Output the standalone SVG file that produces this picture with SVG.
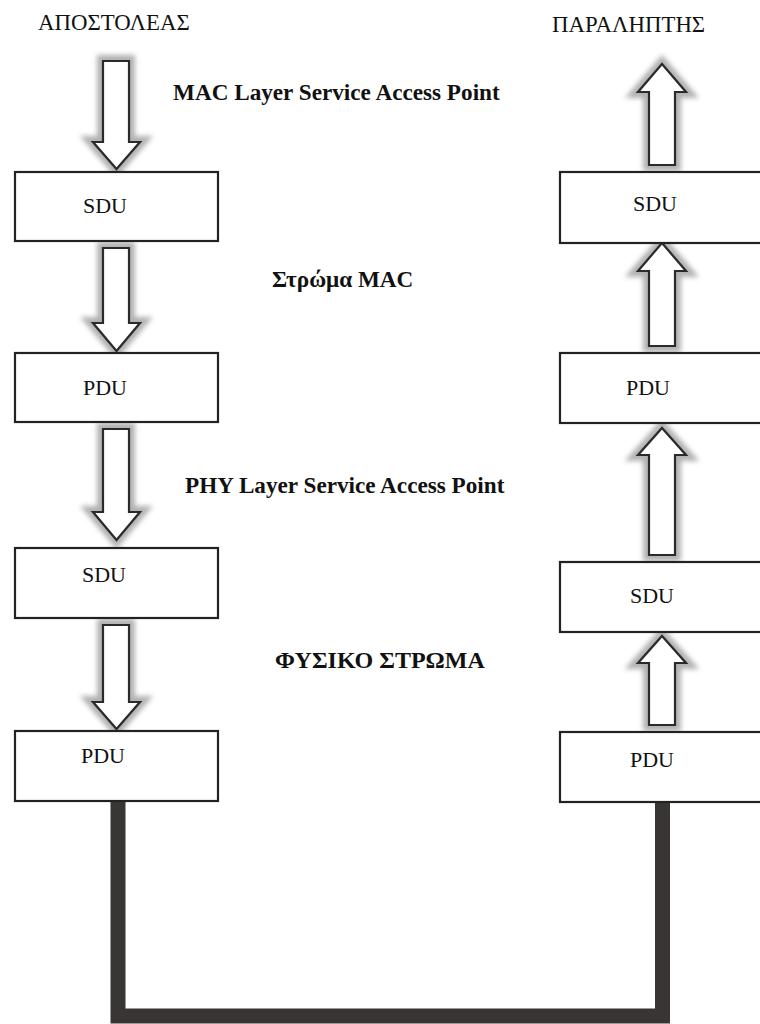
<svg xmlns="http://www.w3.org/2000/svg" width="760" height="1024" viewBox="0 0 760 1024">
<defs>
<filter id="halo" x="-60%" y="-30%" width="220%" height="160%">
<feGaussianBlur stdDeviation="2.5"/>
</filter>
</defs>
<style>
text{font-family:'Liberation Serif','Times New Roman',Times,'DejaVu Serif',serif;fill:#111}
.box{fill:#fff;stroke:#222;stroke-width:2.2}
.arr{fill:#fff;stroke:#2a2a2a;stroke-width:2.2;stroke-linejoin:miter}
.glow{fill:none;stroke:#9e9e9e;stroke-width:12;opacity:0.8;filter:url(#halo)}
.lbl{font-size:22px}
.hdr{font-size:22.8px}
.bold{font-size:23.2px;font-weight:bold}
.wire{fill:none;stroke:#3a3535;stroke-width:15;stroke-linejoin:miter}
</style>
<rect width="760" height="1024" fill="#fff"/>

<g font-family="Liberation Serif, serif">
<text class="hdr" x="38" y="30">ΑΠΟΣΤΟΛΕΑΣ</text>
<text class="hdr" x="552" y="32">ΠΑΡΑΛΗΠΤΗΣ</text>
<text class="bold" x="173" y="100">MAC Layer Service Access Point</text>
<text class="bold" x="272" y="287">Στρώμα MAC</text>
<text class="bold" x="185" y="493">PHY Layer Service Access Point</text>
<text class="bold" x="275" y="668" style="font-size:24px">ΦΥΣΙΚΟ ΣΤΡΩΜΑ</text>
</g>

<g id="connectors">
<g id="arrow-l1"><path class="glow" d="M103,61 H129 V142 H140 L116.5,169 L93,142 H103 Z"/><path class="arr" d="M103,61 H129 V142 H140 L116.5,169 L93,142 H103 Z"/></g>
<g id="arrow-l2"><path class="glow" d="M103,248 H129 V323 H140 L116.5,351 L93,323 H103 Z"/><path class="arr" d="M103,248 H129 V323 H140 L116.5,351 L93,323 H103 Z"/></g>
<g id="arrow-l3"><path class="glow" d="M103,429 H129 V512 H140 L116.5,540 L93,512 H103 Z"/><path class="arr" d="M103,429 H129 V512 H140 L116.5,540 L93,512 H103 Z"/></g>
<g id="arrow-l4"><path class="glow" d="M103,625 H129 V702 H140 L116.5,729 L93,702 H103 Z"/><path class="arr" d="M103,625 H129 V702 H140 L116.5,729 L93,702 H103 Z"/></g>
<g id="arrow-r1"><path class="glow" d="M649,165 H675 V92 H686 L662,64 L638,92 H649 Z"/><path class="arr" d="M649,165 H675 V92 H686 L662,64 L638,92 H649 Z"/></g>
<g id="arrow-r2"><path class="glow" d="M649,346 H675 V271 H686 L662,243 L638,271 H649 Z"/><path class="arr" d="M649,346 H675 V271 H686 L662,243 L638,271 H649 Z"/></g>
<g id="arrow-r3"><path class="glow" d="M649,555 H675 V455 H686 L662,428 L638,455 H649 Z"/><path class="arr" d="M649,555 H675 V455 H686 L662,428 L638,455 H649 Z"/></g>
<g id="arrow-r4"><path class="glow" d="M649,725 H675 V663 H686 L662,636 L638,663 H649 Z"/><path class="arr" d="M649,725 H675 V663 H686 L662,636 L638,663 H649 Z"/></g>
<path id="medium" class="wire" d="M118,802 V1016 H662.5 V803"/>
</g>

<g id="tx-sdu1"><rect class="box" x="15" y="172" width="203" height="69"/><text class="lbl" x="83" y="213">SDU</text></g>
<g id="tx-pdu1"><rect class="box" x="15" y="353" width="203" height="69"/><text class="lbl" x="83" y="395">PDU</text></g>
<g id="tx-sdu2"><rect class="box" x="15" y="548" width="203" height="70"/><text class="lbl" x="82" y="582">SDU</text></g>
<g id="tx-pdu2"><rect class="box" x="15" y="731" width="203" height="70"/><text class="lbl" x="81" y="763">PDU</text></g>

<g id="rx-sdu1"><rect class="box" x="560" y="172" width="210" height="71"/><text class="lbl" x="633" y="211">SDU</text></g>
<g id="rx-pdu1"><rect class="box" x="560" y="353" width="210" height="70"/><text class="lbl" x="626" y="395">PDU</text></g>
<g id="rx-sdu2"><rect class="box" x="560" y="562" width="210" height="70"/><text class="lbl" x="630" y="603">SDU</text></g>
<g id="rx-pdu2"><rect class="box" x="560" y="732" width="210" height="70"/><text class="lbl" x="630" y="767">PDU</text></g>
</svg>
